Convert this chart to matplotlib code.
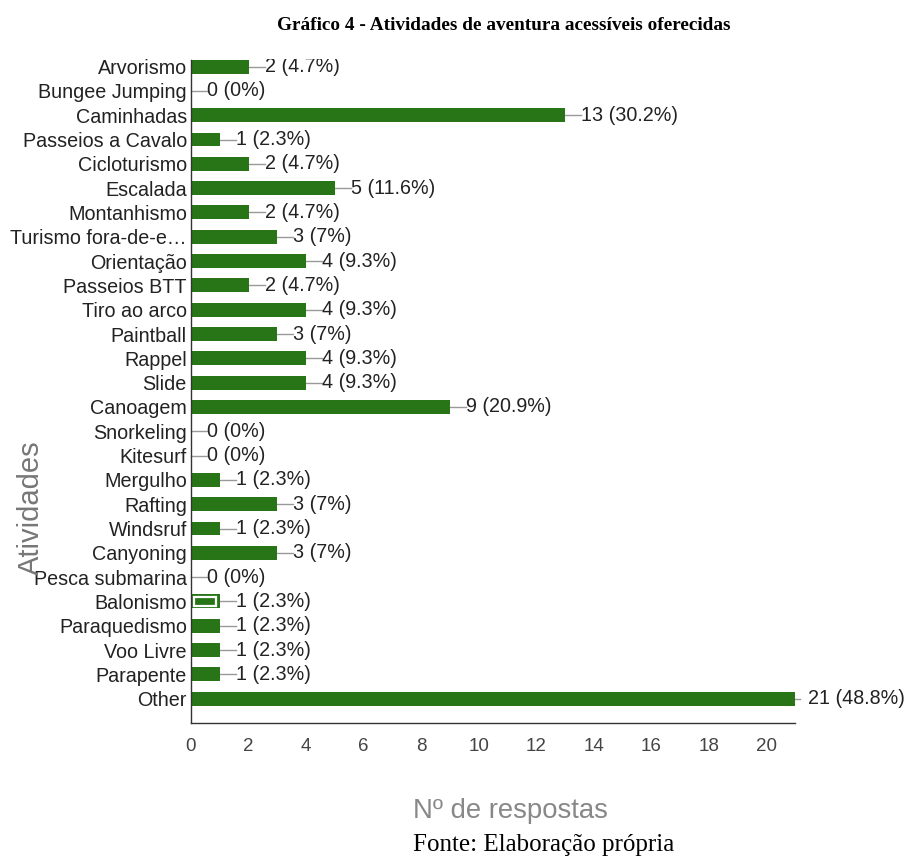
import matplotlib
matplotlib.use("Agg")
import matplotlib.pyplot as plt
from matplotlib.patches import Rectangle
from matplotlib.transforms import offset_copy

categories = ["Arvorismo", "Bungee Jumping", "Caminhadas", "Passeios a Cavalo",
              "Cicloturismo", "Escalada", "Montanhismo", "Turismo fora-de-e…",
              "Orientação", "Passeios BTT", "Tiro ao arco", "Paintball", "Rappel",
              "Slide", "Canoagem", "Snorkeling", "Kitesurf", "Mergulho", "Rafting",
              "Windsruf", "Canyoning", "Pesca submarina", "Balonismo",
              "Paraquedismo", "Voo Livre", "Parapente", "Other"]
counts = [2, 0, 13, 1, 2, 5, 2, 3, 4, 2, 4, 3, 4, 4, 9, 0, 0, 1, 3, 1, 3, 0, 1, 1, 1, 1, 21]
percents = ["4.7%", "0%", "30.2%", "2.3%", "4.7%", "11.6%", "4.7%", "7%", "9.3%",
            "4.7%", "9.3%", "7%", "9.3%", "9.3%", "20.9%", "0%", "0%", "2.3%", "7%",
            "2.3%", "7%", "0%", "2.3%", "2.3%", "2.3%", "2.3%", "48.8%"]
x_ticks = [0, 2, 4, 6, 8, 10, 12, 14, 16, 18, 20]
highlighted = "Balonismo"

W, H = 912, 859
fig = plt.figure(figsize=(W / 100, H / 100), dpi=100)
sans = ["Liberation Sans", "DejaVu Sans"]
serif = ["Liberation Serif", "DejaVu Serif"]

ax = fig.add_axes([191 / W, 1 - 723 / H, (795 - 191) / W, (723 - 60) / H])
bar_color = "#287518"
ypos = list(range(len(categories)))
ax.barh(ypos, counts, height=0.575, color=bar_color, zorder=2)

ax.set_xlim(0, 21)
ax.set_ylim(27.0, -0.27)
ax.set_yticks(ypos)
ax.set_yticklabels(categories, family=sans, fontsize=14.2, color="#222222")
ax.set_xticks(x_ticks)
ax.set_xticklabels([str(t) for t in x_ticks], family=sans, fontsize=13.5, color="#444444")
ax.tick_params(axis="both", length=0)
ax.tick_params(axis="y", pad=3)
ax.tick_params(axis="x", pad=11)
for s in ["top", "right"]:
    ax.spines[s].set_visible(False)
ax.spines["left"].set_color("#333333")
ax.spines["bottom"].set_color("#333333")
ax.spines["left"].set_linewidth(1.0)
ax.spines["bottom"].set_linewidth(1.0)

# highlighted bar: white inner outline
for i, (c, v) in enumerate(zip(categories, counts)):
    if c == highlighted:
        ax.add_patch(Rectangle((v * 0.12, i - 0.17), v * 0.76, 0.34, fill=False,
                               edgecolor="white", linewidth=1.6, zorder=3))

# annotations with connector
for i, (v, p) in enumerate(zip(counts, percents)):
    label = f"{v} ({p})"
    if v == max(counts):
        ax.plot([v, v + 5 / 28.76], [i, i], color="#999999", lw=1, zorder=1, clip_on=False)
        t = offset_copy(ax.transData, fig=fig, x=13 * 0.72, y=0, units="points")
    else:
        ax.plot([v, v + 16 / 28.76], [i, i], color="#999999", lw=1, zorder=1, clip_on=False)
        t = offset_copy(ax.transData, fig=fig, x=16 * 0.72, y=0, units="points")
    ax.text(v, i, label, transform=t, va="center", ha="left", family=sans,
            fontsize=14.2, color="#222222")

# top white band (cropped look)
fig.patches.append(Rectangle((0, 1 - 59 / H), 1, 59 / H, transform=fig.transFigure,
                             facecolor="white", edgecolor="none", zorder=10))

fig.text(504 / W, 1 - 25 / H, "Gráfico 4 - Atividades de aventura acessíveis oferecidas",
         ha="center", va="center", family=serif, fontweight="bold", fontsize=13.9,
         color="black", zorder=11)
fig.text(31 / W, 1 - 508 / H, "Atividades", rotation=90, ha="center", va="center",
         family=sans, fontsize=21, color="#777777")
fig.text(413 / W, 1 - 811 / H, "Nº de respostas", ha="left", va="center",
         family=sans, fontsize=19.8, color="#888888")
fig.text(413 / W, 1 - 845 / H, "Fonte: Elaboração própria", ha="left", va="center",
         family=serif, fontsize=18, color="black")

fig.savefig("out.png", dpi=100)
